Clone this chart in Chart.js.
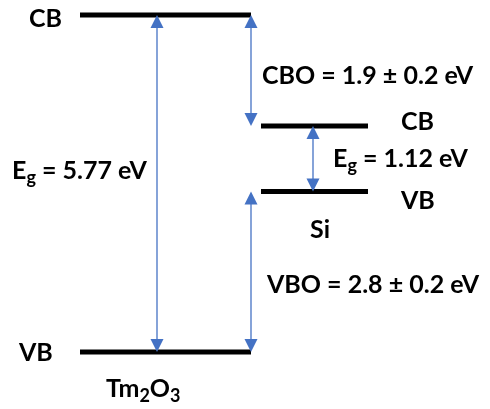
<!DOCTYPE html>
<html>
<head>
<meta charset="utf-8">
<script src="https://cdn.jsdelivr.net/npm/chart.js@4/dist/chart.umd.min.js"></script>
<style>
  html, body { margin: 0; padding: 0; background: #ffffff; }
  #wrap { width: 490px; height: 409px; position: relative; }
</style>
</head>
<body>
<div id="wrap"><canvas id="bands"></canvas></div>
<script>
// Band alignment of Tm2O3 on Si (energies in eV)
const materials = ['Tm₂O₃', 'Si'];
const bandNames = ['CB', 'VB'];
const bandGaps = [5.77, 1.12];        // Tm2O3, Si
const conductionOffset = 1.9;         // CBO
const valenceOffset = 2.8;            // VBO
const offsetUncertainty = 0.2;

// Level energies referenced to the Tm2O3 valence band
const tmVB = 0;
const tmCB = tmVB + bandGaps[0];
const siCB = tmCB - conductionOffset;
const siVB = siCB - bandGaps[1];

// Horizontal layout (x-scale units)
const X = {
  tmLeft: 80, tmRight: 251,
  siLeft: 261, siRight: 368,
  tmGapArrow: 157, offsetArrow: 251, siGapArrow: 313
};

// Vertical scale chosen so the Tm2O3 levels sit near the top and bottom
const H = 409;
const pxPerEV = (352 - 15) / (tmCB - tmVB);
const yMax = tmCB + 15 / pxPerEV;
const yMin = tmVB - (H - 352) / pxPerEV;

const BLUE = '#4472C4';
const FONT = 'Lato, "Open Sans", sans-serif';

function level(x0, x1, e) {
  return [{ x: x0, y: e }, { x: x1, y: e }];
}

const fmt = v => v.toFixed(v % 1 === 0 ? 0 : (String(v).split('.')[1] || '').length);

// Draw a run of text pieces; pieces flagged sub are smaller and lowered
function drawRich(ctx, x, y, pieces, size) {
  let cx = x;
  for (const p of pieces) {
    const s = p.sub ? Math.round(size * 0.7) : size;
    ctx.font = 'bold ' + s + 'px ' + FONT;
    ctx.fillText(p.t, cx, y + (p.sub ? size * 0.18 : 0));
    cx += ctx.measureText(p.t).width;
  }
}

function arrowHead(ctx, x, tipY, dir) {
  const len = 13, half = 6.5;
  ctx.beginPath();
  ctx.moveTo(x, tipY);
  ctx.lineTo(x - half, tipY - dir * len);
  ctx.lineTo(x + half, tipY - dir * len);
  ctx.closePath();
  ctx.fill();
}

// Double-headed vertical arrow between two energies
function doubleArrow(ctx, xs, ys, x, eTop, eBottom) {
  const px = xs.getPixelForValue(x);
  const yT = ys.getPixelForValue(eTop);
  const yB = ys.getPixelForValue(eBottom);
  ctx.strokeStyle = BLUE;
  ctx.fillStyle = BLUE;
  ctx.lineWidth = 1.3;
  ctx.beginPath();
  ctx.moveTo(px, yT + 10);
  ctx.lineTo(px, yB - 10);
  ctx.stroke();
  arrowHead(ctx, px, yT, -1);
  arrowHead(ctx, px, yB, 1);
}

const annotations = {
  id: 'bandAnnotations',
  afterDatasetsDraw(chart) {
    const { ctx, scales: { x: xs, y: ys } } = chart;
    ctx.save();
    doubleArrow(ctx, xs, ys, X.tmGapArrow, tmCB, tmVB);
    doubleArrow(ctx, xs, ys, X.offsetArrow, tmCB, siCB);
    doubleArrow(ctx, xs, ys, X.offsetArrow, siVB, tmVB);
    doubleArrow(ctx, xs, ys, X.siGapArrow, siCB, siVB);

    ctx.fillStyle = '#000';
    ctx.textBaseline = 'alphabetic';
    ctx.textAlign = 'left';
    const size = 25;
    const py = e => ys.getPixelForValue(e);
    const pm = (a, b) => (py(a) + py(b)) / 2;

    drawRich(ctx, 29, py(tmCB) + 12, [{ t: bandNames[0] }], size);
    drawRich(ctx, 19, py(tmVB) + 9, [{ t: bandNames[1] }], size);
    drawRich(ctx, 106, py(tmVB) + 45,
      [{ t: 'Tm' }, { t: '2', sub: true }, { t: 'O' }, { t: '3', sub: true }], size);
    drawRich(ctx, 12, pm(tmCB, tmVB) - 4.5,
      [{ t: 'E' }, { t: 'g', sub: true }, { t: ' = ' + fmt(bandGaps[0]) + ' eV' }], size);
    drawRich(ctx, 262, pm(tmCB, siCB) + 14,
      [{ t: 'CBO = ' + fmt(conductionOffset) + ' ± ' + fmt(offsetUncertainty) + ' eV' }], size);
    drawRich(ctx, 401, py(siCB) + 4, [{ t: bandNames[0] }], size);
    drawRich(ctx, 333, pm(siCB, siVB) + 8.5,
      [{ t: 'E' }, { t: 'g', sub: true }, { t: ' = ' + fmt(bandGaps[1]) + ' eV' }], size);
    drawRich(ctx, 401, py(siVB) + 18, [{ t: bandNames[1] }], size);
    drawRich(ctx, 310, py(siVB) + 47, [{ t: materials[1] }], size);
    drawRich(ctx, 267, pm(siVB, tmVB) + 21,
      [{ t: 'VBO = ' + fmt(valenceOffset) + ' ± ' + fmt(offsetUncertainty) + ' eV' }], size);
    ctx.restore();
  }
};

new Chart(document.getElementById('bands'), {
  type: 'line',
  data: {
    datasets: [
      { label: materials[0] + ' ' + bandNames[0], data: level(X.tmLeft, X.tmRight, tmCB) },
      { label: materials[0] + ' ' + bandNames[1], data: level(X.tmLeft, X.tmRight, tmVB) },
      { label: materials[1] + ' ' + bandNames[0], data: level(X.siLeft, X.siRight, siCB) },
      { label: materials[1] + ' ' + bandNames[1], data: level(X.siLeft, X.siRight, siVB) }
    ]
  },
  options: {
    responsive: true,
    maintainAspectRatio: false,
    animation: false,
    events: [],
    layout: { padding: 0 },
    scales: {
      x: { type: 'linear', min: 0, max: 490, display: false },
      y: { type: 'linear', min: yMin, max: yMax, display: false }
    },
    elements: {
      line: { borderColor: '#000000', borderWidth: 5, borderCapStyle: 'butt', tension: 0, fill: false },
      point: { radius: 0, hoverRadius: 0 }
    },
    plugins: { legend: { display: false }, tooltip: { enabled: false } }
  },
  plugins: [annotations]
});
</script>
</body>
</html>
